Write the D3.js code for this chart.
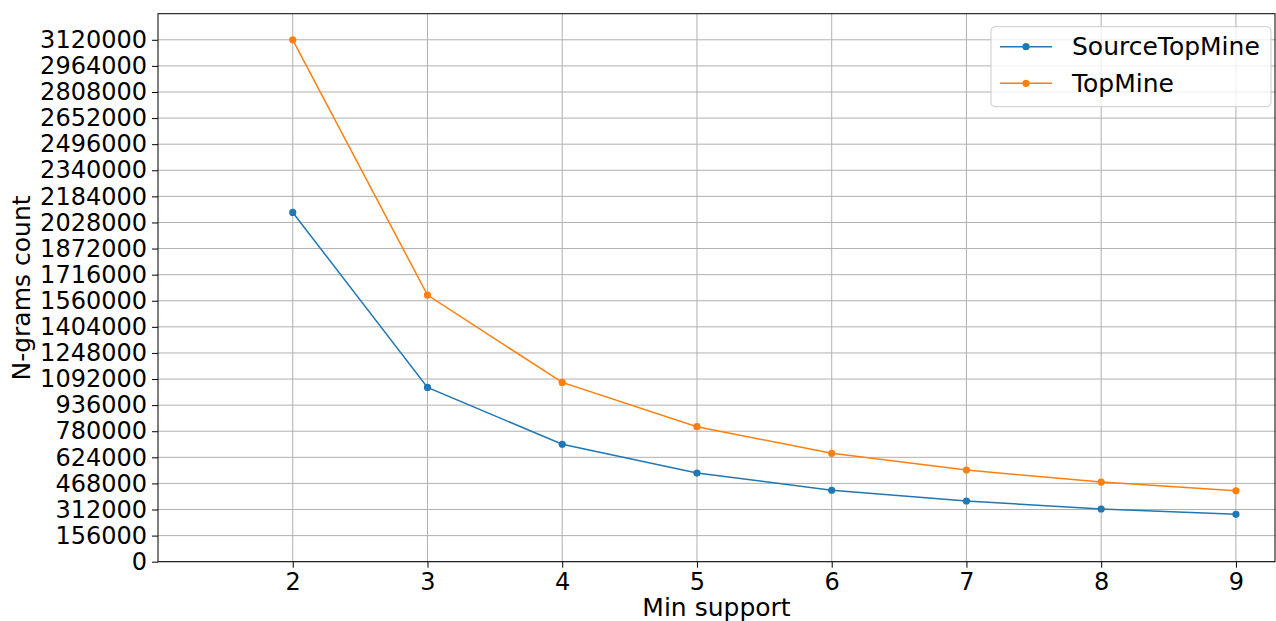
<!DOCTYPE html>
<html><head><meta charset="utf-8">
<script src="https://cdn.jsdelivr.net/npm/d3@7"></script>
<style>body{margin:0;background:#fff;} text{font-family:"DejaVu Sans",sans-serif;}</style>
</head><body>
<svg id="c" width="1276" height="621"></svg>
<script>
const minSupport = [2,3,4,5,6,7,8,9];
const sourceTopMine = [2088000,1042000,702000,530000,427000,363000,315000,283000];
const topMine = [3120000,1594000,1072000,807000,648000,548000,476000,424000];
const yTicks = d3.range(0, 3120001, 156000);
const seriesNames = ["SourceTopMine","TopMine"];
const colors = ["#1f77b4","#ff7f0e"];

const svg = d3.select("#c");
const L=158, R=1275, T=13.7, B=561.7;
const x = d3.scaleLinear().domain([1,9.29]).range([L,R]);
const y = d3.scaleLinear().domain([0,3276000]).range([B,T]);

// grid
svg.append("g").selectAll("line").data(minSupport).join("line")
  .attr("x1",d=>x(d)).attr("x2",d=>x(d)).attr("y1",T).attr("y2",B)
  .attr("stroke","#b0b0b0").attr("stroke-width",1);
svg.append("g").selectAll("line").data(yTicks).join("line")
  .attr("x1",L).attr("x2",R).attr("y1",d=>y(d)).attr("y2",d=>y(d))
  .attr("stroke","#b0b0b0").attr("stroke-width",1);

// axes
const xa = svg.append("g").attr("transform",`translate(0,${B})`)
  .call(d3.axisBottom(x).tickValues(minSupport).tickSize(6).tickPadding(5).tickFormat(d3.format("d")));
const ya = svg.append("g").attr("transform",`translate(${L},0)`)
  .call(d3.axisLeft(y).tickValues(yTicks).tickSize(6).tickPadding(5).tickFormat(d3.format("d")));
[xa,ya].forEach(a=>{a.select(".domain").remove();
  a.selectAll("text").attr("font-size",24).attr("fill","#000").style("font-family","DejaVu Sans");
  a.selectAll("line").attr("stroke","#000").attr("stroke-width",1);});
// frame
svg.append("rect").attr("x",L).attr("y",T).attr("width",R-L).attr("height",B-T)
  .attr("fill","none").attr("stroke","#000").attr("stroke-width",1);

// series
const data = [sourceTopMine, topMine];
const line = d3.line().x((d,i)=>x(minSupport[i])).y(d=>y(d));
data.forEach((s,k)=>{
  svg.append("path").datum(s).attr("d",line).attr("fill","none")
    .attr("stroke",colors[k]).attr("stroke-width",1.5);
  svg.append("g").selectAll("circle").data(s).join("circle")
    .attr("cx",(d,i)=>x(minSupport[i])).attr("cy",d=>y(d)).attr("r",3.6).attr("fill",colors[k]);
});

// labels
svg.append("text").attr("x",(L+R)/2).attr("y",616).attr("text-anchor","middle")
  .attr("font-size",25).text("Min support");
svg.append("text").attr("transform","translate(30,288) rotate(-90)").attr("text-anchor","middle")
  .attr("font-size",25).text("N-grams count");

// legend
const lg = svg.append("g");
lg.append("rect").attr("x",991).attr("y",26.7).attr("width",280).attr("height",80).attr("rx",4)
  .attr("fill","#fff").attr("fill-opacity",0.8).attr("stroke","#cccccc");
seriesNames.forEach((n,k)=>{
  const yy = 46.7 + k*36.6;
  lg.append("line").attr("x1",1000).attr("x2",1052).attr("y1",yy).attr("y2",yy)
    .attr("stroke",colors[k]).attr("stroke-width",1.5);
  lg.append("circle").attr("cx",1026).attr("cy",yy).attr("r",3.6).attr("fill",colors[k]);
  lg.append("text").attr("x",1072).attr("y",yy).attr("dy","0.35em").attr("font-size",25).text(n);
});
</script>
</body></html>
